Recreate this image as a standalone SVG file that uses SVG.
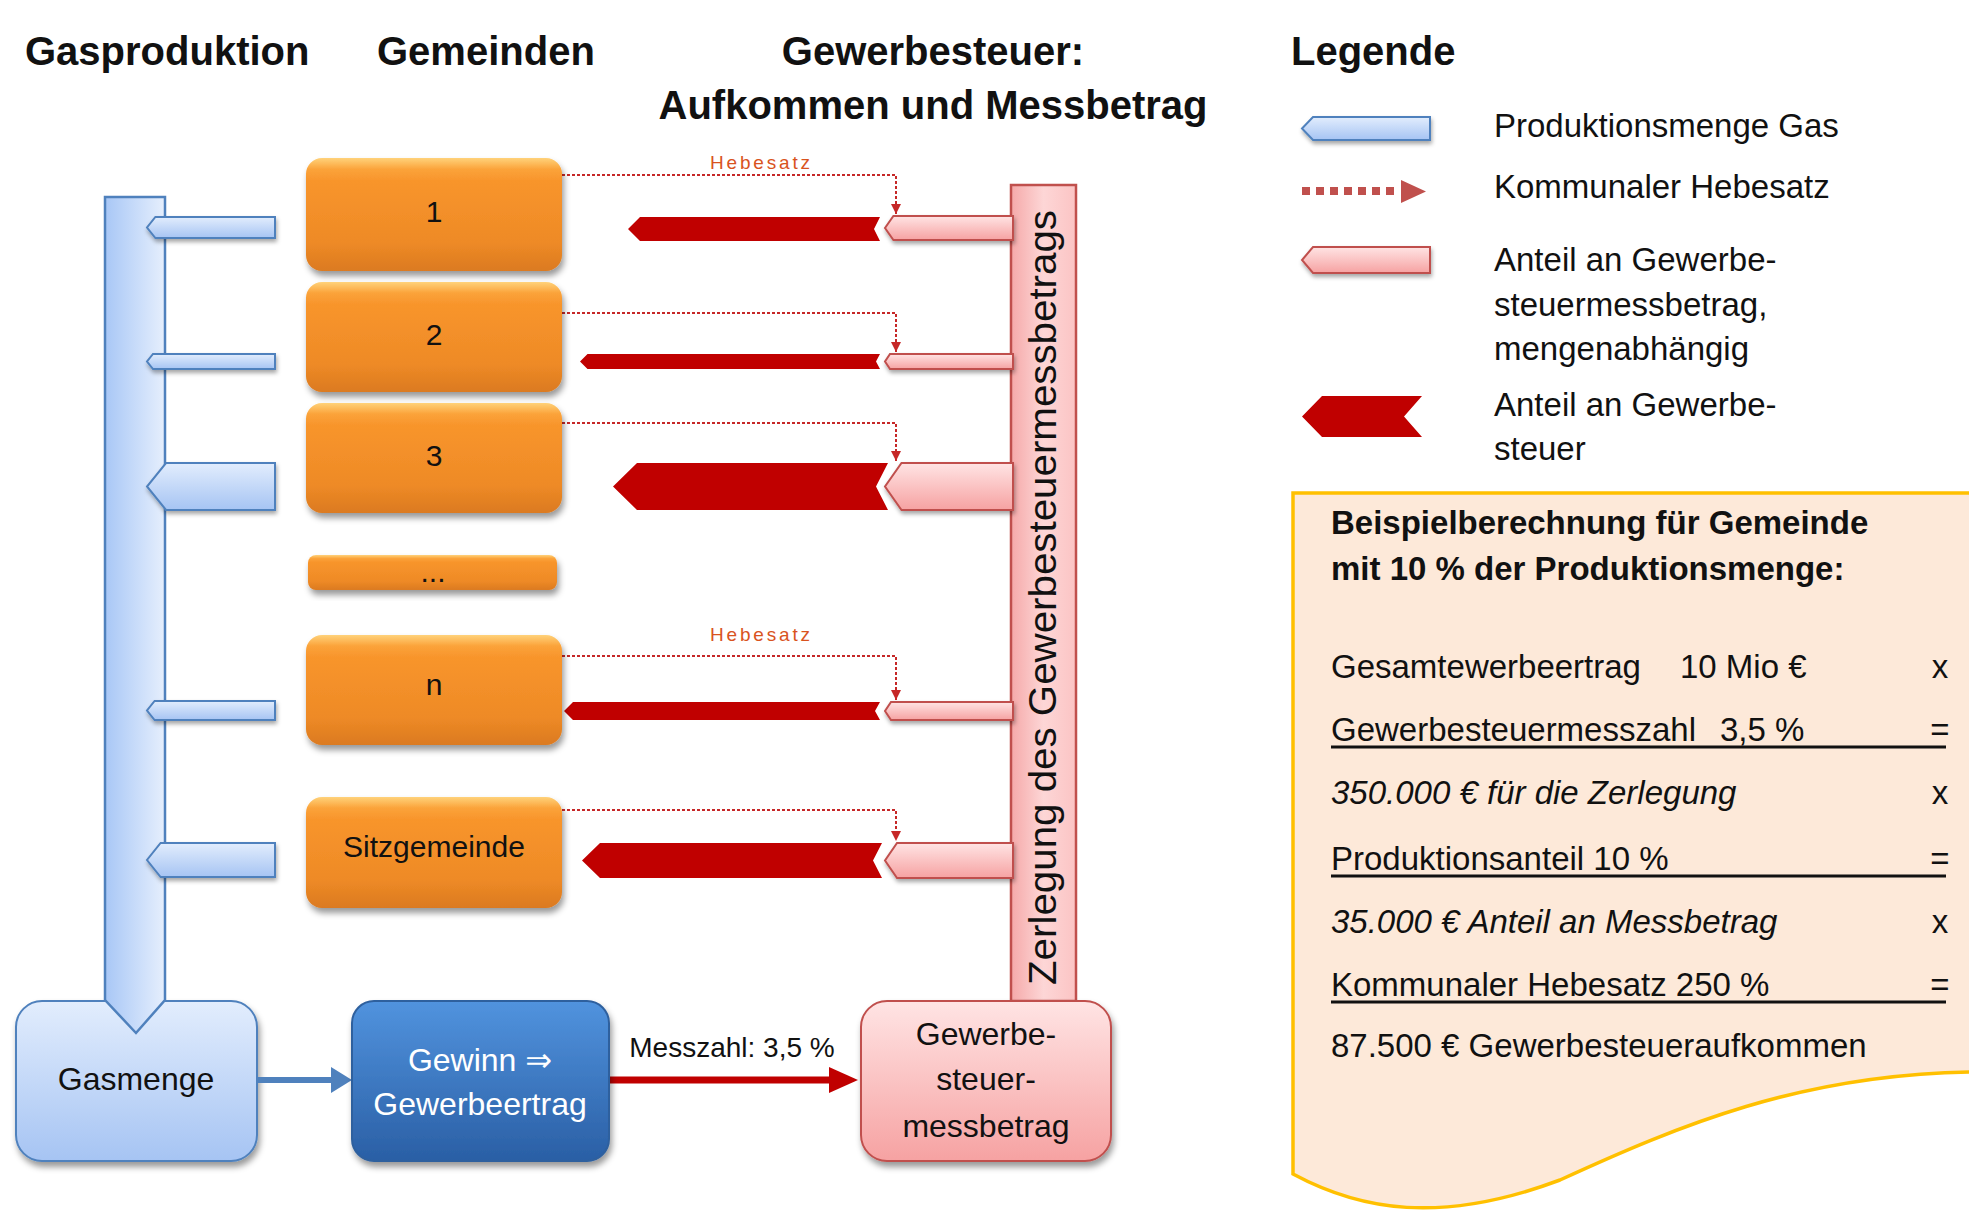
<svg xmlns="http://www.w3.org/2000/svg" width="1969" height="1218" viewBox="0 0 1969 1218">
<defs>
<linearGradient id="gOrange" x1="0" y1="0" x2="0" y2="1">
<stop offset="0" stop-color="#ffd27a"/><stop offset="0.1" stop-color="#fba33a"/><stop offset="0.2" stop-color="#f8952c"/><stop offset="0.75" stop-color="#ee8a26"/><stop offset="1" stop-color="#db7a20"/>
</linearGradient>
<linearGradient id="gBlueV" x1="0" y1="0" x2="0" y2="1"><stop offset="0" stop-color="#e2edfd"/><stop offset="1" stop-color="#a6c4f3"/></linearGradient>
<linearGradient id="gBlueH" x1="0" y1="0" x2="1" y2="0"><stop offset="0" stop-color="#a8c7f6"/><stop offset="1" stop-color="#e6effd"/></linearGradient>
<linearGradient id="gPinkV" x1="0" y1="0" x2="0" y2="1"><stop offset="0" stop-color="#ffe4e4"/><stop offset="1" stop-color="#f6a2a2"/></linearGradient>
<linearGradient id="gPinkH" x1="0" y1="0" x2="1" y2="0"><stop offset="0" stop-color="#f5a9a9"/><stop offset="0.5" stop-color="#fdd6d6"/><stop offset="1" stop-color="#fbc4c4"/></linearGradient>
<linearGradient id="gDark" x1="0" y1="0" x2="0" y2="1"><stop offset="0" stop-color="#5193de"/><stop offset="1" stop-color="#2a5fa5"/></linearGradient>
<filter id="sh" x="-10%" y="-20%" width="125%" height="150%"><feDropShadow dx="2" dy="5" stdDeviation="3" flood-color="#000" flood-opacity="0.4"/></filter>
<filter id="shs" x="-10%" y="-40%" width="125%" height="200%"><feDropShadow dx="1" dy="3" stdDeviation="2" flood-color="#000" flood-opacity="0.35"/></filter>
<marker id="dotArr" markerWidth="10" markerHeight="10" refX="10" refY="5" orient="auto" markerUnits="userSpaceOnUse"><path d="M0,0 L10,5 L0,10 z" fill="#c62828"/></marker>
</defs>
<style>
.hd{font-family:"Liberation Sans",Arial,sans-serif;font-weight:bold;font-size:40px;fill:#111}
.nt{font-family:"Liberation Sans","DejaVu Sans",Arial,sans-serif;font-size:30px;fill:#111;text-anchor:middle}
.bt{font-family:"Liberation Sans","DejaVu Sans",Arial,sans-serif;font-size:32px;text-anchor:middle}
.lg{font-family:"Liberation Sans",Arial,sans-serif;font-size:33px;fill:#111}
.ex{font-family:"Liberation Sans",Arial,sans-serif;font-size:33px;fill:#111}
.exb{font-weight:bold}
.exi{font-style:italic}
.op{text-anchor:middle}
.ob{fill:url(#gOrange);filter:url(#sh)}
.ba{fill:url(#gBlueV);stroke:#4f81bd;stroke-width:2;filter:url(#shs)}
.pa{fill:url(#gPinkV);stroke:#c0504d;stroke-width:2;filter:url(#shs)}
.ra{fill:#c00000}
.dot{fill:none;stroke:#c62828;stroke-width:2;stroke-dasharray:3 2;marker-end:url(#dotArr)}
.hb{font-family:"Liberation Sans",Arial,sans-serif;font-size:19px;fill:#d9531e;text-anchor:middle}
.ul{stroke:#111;stroke-width:3}
</style>

<g id="headers">
<text class="hd" x="25" y="65">Gasproduktion</text>
<text class="hd" x="377" y="65">Gemeinden</text>
<text class="hd" x="933" y="65" text-anchor="middle">Gewerbesteuer:</text>
<text class="hd" x="933" y="119" text-anchor="middle">Aufkommen und Messbetrag</text>
<text class="hd" x="1291" y="65">Legende</text>
</g>

<g id="gasmenge">
<rect x="16" y="1001" width="241" height="160" rx="26" fill="url(#gBlueV)" stroke="#4f81bd" stroke-width="2" filter="url(#sh)"/>
<text class="bt" x="136" y="1090" fill="#111">Gasmenge</text>
</g>

<g id="gasbar">
<path d="M105,197 H165 V1000 L136,1033 L105,1000 Z" fill="url(#gBlueH)" stroke="#4f81bd" stroke-width="2.5"/>
</g>

<g id="zerlegung">
<rect x="1011" y="185" width="65" height="816" fill="url(#gPinkH)" stroke="#c0504d" stroke-width="2.5"/>
<text transform="translate(1056,985) rotate(-90)" font-family="Liberation Sans, Arial, sans-serif" font-size="38" fill="#111" textLength="775" lengthAdjust="spacingAndGlyphs">Zerlegung des Gewerbesteuermessbetrags</text>
</g>

<g id="connectors">
<!-- blue production branches -->
<polygon class="ba" points="275,217 155.4,217 147,227.5 155.4,238 275,238"/>
<polygon class="ba" points="275,354 153,354 147,361.5 153,369 275,369"/>
<polygon class="ba" points="275,463 166,463 147,486.5 166,510 275,510"/>
<polygon class="ba" points="275,701 154.6,701 147,710.5 154.6,720 275,720"/>
<polygon class="ba" points="275,843 160.6,843 147,860 160.6,877 275,877"/>
<!-- pink shares of Messbetrag -->
<polygon class="pa" points="1013,216 893.4,216 885,228 893.4,240 1013,240"/>
<polygon class="pa" points="1013,354 890,354 885,361.5 890,369 1013,369"/>
<polygon class="pa" points="1013,463 901.5,463 885,486.5 901.5,510 1013,510"/>
<polygon class="pa" points="1013,702 891,702 885,711 891,720 1013,720"/>
<polygon class="pa" points="1013,843 897,843 885,860.5 897,878 1013,878"/>
<!-- red shares of Gewerbesteuer -->
<polygon class="ra" points="880,217 640,217 628,229 640,241 880,241 874,229"/>
<polygon class="ra" points="880,354 587.5,354 580,361.5 587.5,369 880,369 876,361.5"/>
<polygon class="ra" points="888,463 637,463 613,486.5 637,510 888,510 876,486.5"/>
<polygon class="ra" points="880,702 573,702 564,711 573,720 880,720 875,711"/>
<polygon class="ra" points="882,843 600,843 582,860.5 600,878 882,878 873,860.5"/>
<!-- Hebesatz dotted -->
<path class="dot" d="M562,175 H896 V214"/>
<path class="dot" d="M562,313 H896 V352"/>
<path class="dot" d="M562,423 H896 V461"/>
<path class="dot" d="M562,656 H896 V700"/>
<path class="dot" d="M562,810 H896 V841"/>
<text class="hb" x="760" y="169" textLength="100">Hebesatz</text>
<text class="hb" x="760" y="641" textLength="100">Hebesatz</text>
<!-- bottom flow -->
<line x1="257" y1="1080" x2="333" y2="1080" stroke="#4f81bd" stroke-width="6"/>
<polygon points="331,1067 352,1080 331,1093" fill="#4f81bd"/>
<line x1="609" y1="1080" x2="832" y2="1080" stroke="#c00000" stroke-width="7"/>
<polygon points="829,1067 858,1080 829,1093" fill="#c00000"/>
<text x="732" y="1057" font-family="Liberation Sans, Arial, sans-serif" font-size="28" fill="#111" text-anchor="middle">Messzahl: 3,5 %</text>
</g>

<g id="node1"><rect class="ob" x="306" y="158" width="256" height="113" rx="16"/><text class="nt" x="434" y="222">1</text></g>
<g id="node2"><rect class="ob" x="306" y="282" width="256" height="110" rx="16"/><text class="nt" x="434" y="345">2</text></g>
<g id="node3"><rect class="ob" x="306" y="403" width="256" height="110" rx="16"/><text class="nt" x="434" y="466">3</text></g>
<g id="nodeDots"><rect class="ob" x="308" y="555" width="249" height="35" rx="8"/><text class="nt" x="433" y="582" font-size="22">...</text></g>
<g id="nodeN"><rect class="ob" x="306" y="635" width="256" height="110" rx="16"/><text class="nt" x="434" y="695">n</text></g>
<g id="nodeSitz"><rect class="ob" x="306" y="797" width="256" height="111" rx="16"/><text class="nt" x="434" y="857">Sitzgemeinde</text></g>

<g id="gewinn">
<rect x="352" y="1001" width="257" height="160" rx="22" fill="url(#gDark)" stroke="#2f609e" stroke-width="2" filter="url(#sh)"/>
<text class="bt" x="480" y="1071" fill="#fff">Gewinn ⇒</text>
<text class="bt" x="480" y="1115" fill="#fff">Gewerbeertrag</text>
</g>

<g id="messbetrag">
<rect x="861" y="1001" width="250" height="160" rx="26" fill="url(#gPinkV)" stroke="#c0504d" stroke-width="2" filter="url(#sh)"/>
<text class="bt" x="986" y="1045" fill="#111">Gewerbe-</text>
<text class="bt" x="986" y="1090" fill="#111">steuer-</text>
<text class="bt" x="986" y="1137" fill="#111">messbetrag</text>
</g>

<g id="legend">
<polygon class="ba" points="1430,117 1313,117 1302,128.5 1313,140 1430,140"/>
<text class="lg" x="1494" y="137">Produktionsmenge Gas</text>
<line x1="1302" y1="191" x2="1400" y2="191" stroke="#c0504d" stroke-width="8" stroke-dasharray="8 6"/>
<polygon points="1401,180 1426,191.5 1401,203" fill="#c0504d"/>
<text class="lg" x="1494" y="198">Kommunaler Hebesatz</text>
<polygon class="pa" points="1430,247 1313,247 1302,260 1313,273 1430,273"/>
<text class="lg" x="1494" y="271">Anteil an Gewerbe-</text>
<text class="lg" x="1494" y="316">steuermessbetrag,</text>
<text class="lg" x="1494" y="360">mengenabhängig</text>
<polygon class="ra" points="1422,396 1322,396 1302,416.5 1322,437 1422,437 1404,416.5"/>
<text class="lg" x="1494" y="416">Anteil an Gewerbe-</text>
<text class="lg" x="1494" y="460">steuer</text>
</g>

<g id="example">
<path d="M1293,493 H1975 V1072 H1969 C1800,1075 1680,1125 1560,1180 C1440,1225 1360,1210 1293,1174 Z" fill="#fde9d9" stroke="#ffc000" stroke-width="3.5"/>
<text class="ex exb" x="1331" y="534">Beispielberechnung für Gemeinde</text>
<text class="ex exb" x="1331" y="580">mit 10 % der Produktionsmenge:</text>
<text class="ex" x="1331" y="678">Gesamtewerbeertrag<tspan x="1680">10 Mio €</tspan></text>
<text class="ex op" x="1940" y="678">x</text>
<text class="ex" x="1331" y="741">Gewerbesteuermesszahl<tspan x="1720">3,5 %</tspan></text>
<text class="ex op" x="1940" y="741">=</text>
<line class="ul" x1="1331" y1="747" x2="1946" y2="747"/>
<text class="ex exi" x="1331" y="804">350.000 € für die Zerlegung</text>
<text class="ex op" x="1940" y="804">x</text>
<text class="ex" x="1331" y="870">Produktionsanteil 10 %</text>
<text class="ex op" x="1940" y="870">=</text>
<line class="ul" x1="1331" y1="876" x2="1946" y2="876"/>
<text class="ex exi" x="1331" y="933">35.000 € Anteil an Messbetrag</text>
<text class="ex op" x="1940" y="933">x</text>
<text class="ex" x="1331" y="996">Kommunaler Hebesatz 250 %</text>
<text class="ex op" x="1940" y="996">=</text>
<line class="ul" x1="1331" y1="1002" x2="1946" y2="1002"/>
<text class="ex" x="1331" y="1057">87.500 € Gewerbesteueraufkommen</text>
</g>
</svg>
